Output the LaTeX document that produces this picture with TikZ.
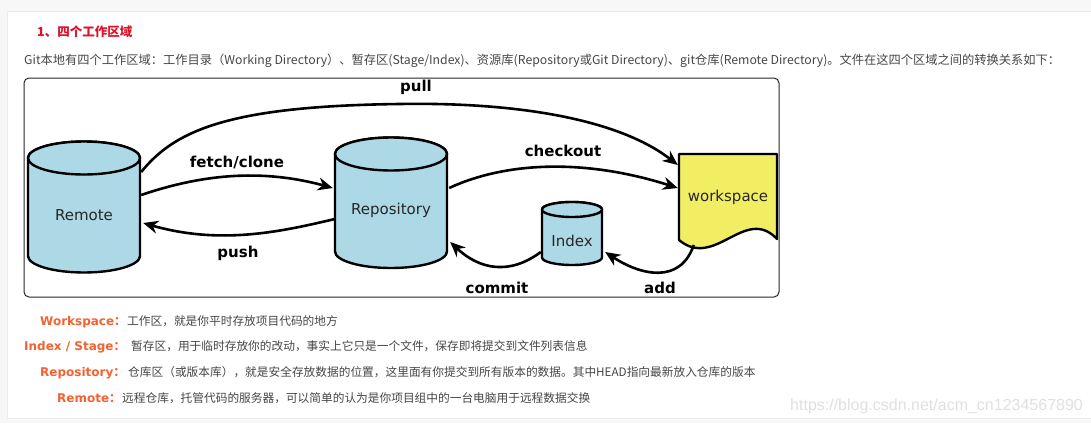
\documentclass[tikz,border=0pt]{standalone}
\usepackage{fontspec}
\setmainfont{DejaVu Sans}
\newfontfamily\cjk{Noto Sans CJK SC}
\newfontfamily\urlfont{Liberation Sans}
\usetikzlibrary{arrows.meta, calc}
\definecolor{storeblue}{RGB}{173,216,230}
\definecolor{workyellow}{RGB}{242,238,100}
\definecolor{headred}{RGB}{224,16,40}
\definecolor{termorange}{RGB}{242,98,50}
\definecolor{bodygray}{RGB}{70,70,70}
\definecolor{pagegray}{RGB}{247,247,247}
\tikzset{
    store/.style      = {draw = black, line width = 2.4pt, fill = storeblue, line join = round},
    worksheet/.style  = {draw = black, line width = 2.4pt, fill = workyellow, line join = round},
    flow/.style       = {draw = black, line width = 2.6pt, -{Stealth[length = 15pt, width = 13pt]}},
    frame/.style      = {draw = black!85, line width = 1pt, rounded corners = 5pt},
    store name/.style = {font = \fontsize{15}{18}\selectfont, text = black!85, inner sep = 0pt},
    flow name/.style  = {font = \fontsize{15}{18}\selectfont\bfseries, inner sep = 0pt},
    heading/.style    = {font = \fontsize{12.5}{15}\selectfont\cjk\bfseries, text = headred, anchor = base west, inner sep = 0pt},
    intro text/.style = {font = \fontsize{12.25}{14}\selectfont\cjk, text = bodygray, anchor = base west, inner sep = 0pt},
    line text/.style  = {font = \fontsize{11.7}{14}\selectfont\cjk, text = bodygray, anchor = base west, inner sep = 0pt},
    term/.style       = {font = \fontsize{12}{14}\selectfont\bfseries, text = termorange, anchor = base west, inner sep = 0pt}
}
% cylinder: centre x, top y, bottom y, x radius, y radius
\newcommand\gitcylinder[5]{%
    \path[store] (#1-#4,#2) -- (#1-#4,#3) arc[start angle = 180, end angle = 0, x radius = #4, y radius = #5]
        -- (#1+#4,#2) arc[start angle = 0, end angle = -180, x radius = #4, y radius = #5] -- cycle;
    \draw[store] (#1,#2) ellipse[x radius = #4, y radius = #5];
}

\begin{document}
\begin{tikzpicture}[x=1pt, y=-1pt]
    \useasboundingbox (0,0) rectangle (1091,423);
    \fill[pagegray] (0,0) rectangle (1091,423);
    \path[fill = white, draw = black!8] (1100,11) -- (7,11) -- (7,418) -- (1100,418);

    \node[heading] (heading) at (37,36) {1、四个工作区域};
    \node[intro text] (intro) at (24,64) {Git本地有四个工作区域：工作目录（Working Directory）、暂存区(Stage/Index)、资源库(Repository或Git Directory)、git仓库(Remote Directory)。文件在这四个区域之间的转换关系如下：};

    % diagram
    \draw[frame] (24,78) rectangle (779,297);

    \gitcylinder{84}{158}{256}{56}{16.5}
    \gitcylinder{391}{154}{251.5}{56}{16.5}
    \gitcylinder{572}{209.5}{257.5}{30}{7.5}
    \path[worksheet] (679,154) -- (777,154) -- (777,239) .. controls (745,205) and (715,270) .. (679,240) -- cycle;

    \node[store name, minimum width = 112pt] (remote) at (84,215) {Remote};
    \node[store name, minimum width = 112pt] (repo) at (391,210) {Repository};
    \node[store name, minimum width = 60pt] (index) at (572,241) {Index};
    \node[store name, minimum width = 98pt] (work) at (728,197) {workspace};

    \draw[flow] ($(remote.east)+(1,-43)$) .. controls (175,130) and (230,106) .. (400,104) .. controls (520,102) and (620,120) .. ($(work.west)+(-1,-32)$);
    \draw[flow] ($(remote.east)+(1,-20)$) .. controls (200,175) and (260,168) .. ($(repo.west)+(-2,-22)$);
    \draw[flow] ($(repo.west)+(0,9)$) .. controls (280,232) and (220,245) .. ($(remote.east)+(3,8)$);
    \draw[flow] ($(repo.east)+(2,-22)$) .. controls (510,160) and (590,160) .. ($(work.west)+(-1,-9)$);
    \draw[flow] ($(index.west)+(-1,11)$) .. controls (510,275) and (480,270) .. ($(repo.east)+(3,32)$);
    \draw[flow] ($(work.west)+(15,48)$) .. controls (680,285) and (640,275) .. ($(index.east)+(3,11)$);

    \node[flow name] (pull) at (416,87) {pull};
    \node[flow name] (fetch) at (237,162) {fetch/clone};
    \node[flow name] (push) at (238,253) {push};
    \node[flow name] (checkout) at (563,151) {checkout};
    \node[flow name] (commit) at (497,288) {commit};
    \node[flow name] (add) at (660,288) {add};

    % terms
    \node[term] (termwork) at (40,325) {Workspace{\cjk ：}};
    \node[line text] (textwork) at (127,325) {工作区，就是你平时存放项目代码的地方};
    \node[term] (termindex) at (24,350) {Index / Stage{\cjk ：}};
    \node[line text] (textindex) at (131,350) {暂存区，用于临时存放你的改动，事实上它只是一个文件，保存即将提交到文件列表信息};
    \node[term] (termrepo) at (40,376) {Repository{\cjk ：}};
    \node[line text] (textrepo) at (128,376) {仓库区（或版本库），就是安全存放数据的位置，这里面有你提交到所有版本的数据。其中HEAD指向最新放入仓库的版本};
    \node[term] (termremote) at (57,402) {Remote{\cjk ：}};
    \node[line text] (textremote) at (122,402) {远程仓库，托管代码的服务器，可以简单的认为是你项目组中的一台电脑用于远程数据交换};

    \node[font = \fontsize{16}{19}\selectfont\urlfont, text = black!12, anchor = base west, inner sep = 0pt] (mark) at (790,410) {https://blog.csdn.net/acm\_cn1234567890};
\end{tikzpicture}
\end{document}
